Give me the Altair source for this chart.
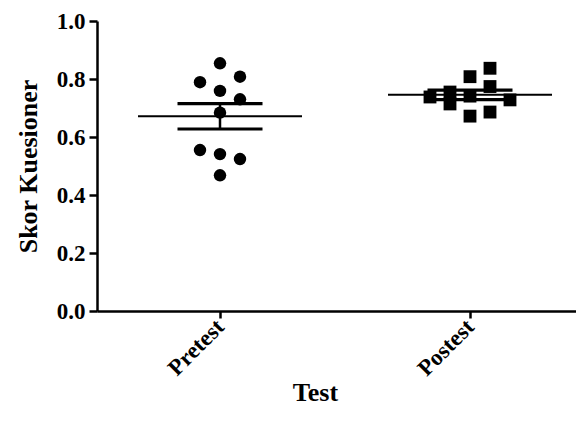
import altair as alt
import pandas as pd

groups = ["Pretest", "Postest"]
pre_values = [0.854, 0.808, 0.789, 0.759, 0.730, 0.684, 0.555, 0.541, 0.524, 0.468]
pre_slots = [0, 1, -1, 0, 1, 0, -1, 0, 1, 0]
post_values = [0.837, 0.808, 0.774, 0.755, 0.741, 0.738, 0.728, 0.714, 0.686, 0.672]
post_slots = [1, 0, 1, -1, 0, -2, 2, -1, 1, 0]
y_ticks = [0.0, 0.2, 0.4, 0.6, 0.8, 1.0]

rows = []
for v, s in zip(pre_values, pre_slots):
    rows.append({"group": "Pretest", "g": 1, "slot": s, "value": v})
for v, s in zip(post_values, post_slots):
    rows.append({"group": "Postest", "g": 2, "slot": s, "value": v})
df = pd.DataFrame(rows)

FONT = "Liberation Serif"
xscale = alt.Scale(domain=[0.508, 2.424], nice=False, zero=False)
yscale = alt.Scale(domain=[0, 1], nice=False)

base = alt.Chart(df)

points = base.transform_calculate(
    xpos="datum.g + datum.slot * 0.08"
).mark_point(filled=True, opacity=1, color="black", strokeWidth=0).encode(
    x=alt.X("xpos:Q", scale=xscale,
            axis=alt.Axis(values=[1, 2],
                          labelExpr="datum.value == 1 ? 'Pretest' : 'Postest'",
                          labelAngle=-45, labelAlign="right", labelBaseline="middle",
                          labelFont=FONT, labelFontWeight="bold", labelFontSize=23,
                          labelPadding=5, labelColor="black", labelOverlap=False,
                          tickSize=7, tickWidth=2.5, tickColor="black",
                          domainWidth=2.5, domainColor="black", grid=False,
                          title="Test", titleFont=FONT, titleFontWeight="bold",
                          titleFontSize=26, titleColor="black",
                          titleX=218, titleY=89, titleBaseline="alphabetic")),
    y=alt.Y("value:Q", scale=yscale,
            axis=alt.Axis(values=y_ticks, format=".1f",
                          labelFont=FONT, labelFontWeight="bold", labelFontSize=23,
                          labelPadding=4, labelColor="black",
                          tickSize=8, tickWidth=2.5, tickColor="black",
                          domainWidth=2.5, domainColor="black", grid=False,
                          title="Skor Kuesioner", titleFont=FONT, titleFontWeight="bold",
                          titleFontSize=26, titleColor="black",
                          titleX=-56, titleY=145, titleAngle=-90,
                          titleAlign="center", titleBaseline="bottom")),
    shape=alt.Shape("group:N", scale=alt.Scale(domain=groups, range=["circle", "square"]), legend=None),
    size=alt.Size("group:N", scale=alt.Scale(domain=groups, range=[155, 165]), legend=None),
)

stats = base.transform_aggregate(
    mean="mean(value)", sem="stderr(value)", groupby=["g"]
).transform_calculate(
    lo="datum.mean - datum.sem", hi="datum.mean + datum.sem",
    m1="datum.g - 0.328", m2="datum.g + 0.328",
    c1="datum.g - 0.17", c2="datum.g + 0.17",
)

mean_line = stats.mark_rule(color="black", strokeWidth=2).encode(
    x=alt.X("m1:Q", scale=xscale), x2="m2:Q", y=alt.Y("mean:Q", scale=yscale))
cap_hi = stats.mark_rule(color="black", strokeWidth=3.2).encode(
    x=alt.X("c1:Q", scale=xscale), x2="c2:Q", y=alt.Y("hi:Q", scale=yscale))
cap_lo = stats.mark_rule(color="black", strokeWidth=3.2).encode(
    x=alt.X("c1:Q", scale=xscale), x2="c2:Q", y=alt.Y("lo:Q", scale=yscale))
vbar = stats.mark_rule(color="black", strokeWidth=2.5).encode(
    x=alt.X("g:Q", scale=xscale), y=alt.Y("lo:Q", scale=yscale), y2="hi:Q")

chart = alt.layer(points, mean_line, cap_hi, cap_lo, vbar).properties(
    width=479, height=290,
    autosize=alt.AutoSizeParams(type="none"),
    padding={"left": 89, "top": 13, "right": 0, "bottom": 96},
    background="white",
).configure_view(stroke=None)

chart.save("out.html", embed_options={"renderer": "svg", "actions": False})
